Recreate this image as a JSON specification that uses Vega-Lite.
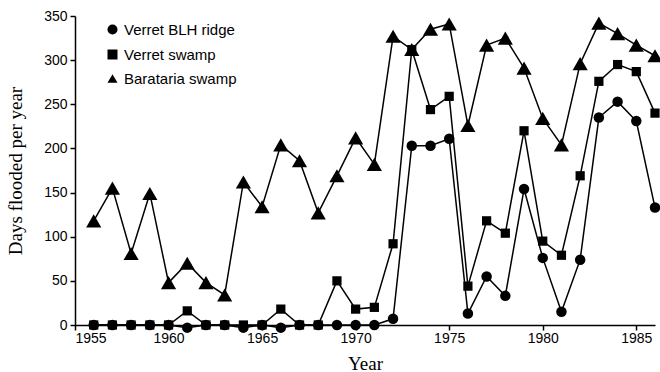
{
  "$schema": "https://vega.github.io/schema/vega-lite/v6.json",
  "width": 580,
  "height": 309,
  "autosize": {"type": "none"},
  "padding": {"left": 75, "top": 16, "right": 5, "bottom": 47},
  "background": "white",
  "config": {
    "view": {"stroke": null},
    "axis": {"grid": false, "domainColor": "black", "tickColor": "black", "labelColor": "black", "titleColor": "black", "labelFont": "Liberation Sans", "labelFontSize": 14, "titleFont": "Liberation Serif", "titleFontSize": 19, "titleFontWeight": "normal", "domainWidth": 1.5, "tickWidth": 1.5, "tickSize": 5}
  },
  "data": {
    "values": [
      {"year": 1956, "site": "Barataria swamp", "days": 118},
      {"year": 1957, "site": "Barataria swamp", "days": 155},
      {"year": 1958, "site": "Barataria swamp", "days": 81},
      {"year": 1959, "site": "Barataria swamp", "days": 149},
      {"year": 1960, "site": "Barataria swamp", "days": 48},
      {"year": 1961, "site": "Barataria swamp", "days": 70},
      {"year": 1962, "site": "Barataria swamp", "days": 48},
      {"year": 1963, "site": "Barataria swamp", "days": 34},
      {"year": 1964, "site": "Barataria swamp", "days": 162},
      {"year": 1965, "site": "Barataria swamp", "days": 134},
      {"year": 1966, "site": "Barataria swamp", "days": 204},
      {"year": 1967, "site": "Barataria swamp", "days": 186},
      {"year": 1968, "site": "Barataria swamp", "days": 127},
      {"year": 1969, "site": "Barataria swamp", "days": 169},
      {"year": 1970, "site": "Barataria swamp", "days": 212},
      {"year": 1971, "site": "Barataria swamp", "days": 182},
      {"year": 1972, "site": "Barataria swamp", "days": 327},
      {"year": 1973, "site": "Barataria swamp", "days": 312},
      {"year": 1974, "site": "Barataria swamp", "days": 335},
      {"year": 1975, "site": "Barataria swamp", "days": 341},
      {"year": 1976, "site": "Barataria swamp", "days": 226},
      {"year": 1977, "site": "Barataria swamp", "days": 317},
      {"year": 1978, "site": "Barataria swamp", "days": 325},
      {"year": 1979, "site": "Barataria swamp", "days": 291},
      {"year": 1980, "site": "Barataria swamp", "days": 234},
      {"year": 1981, "site": "Barataria swamp", "days": 204},
      {"year": 1982, "site": "Barataria swamp", "days": 296},
      {"year": 1983, "site": "Barataria swamp", "days": 342},
      {"year": 1984, "site": "Barataria swamp", "days": 330},
      {"year": 1985, "site": "Barataria swamp", "days": 317},
      {"year": 1986, "site": "Barataria swamp", "days": 305},
      {"year": 1956, "site": "Verret swamp", "days": 0},
      {"year": 1957, "site": "Verret swamp", "days": 0},
      {"year": 1958, "site": "Verret swamp", "days": 0},
      {"year": 1959, "site": "Verret swamp", "days": 0},
      {"year": 1960, "site": "Verret swamp", "days": 0},
      {"year": 1961, "site": "Verret swamp", "days": 16},
      {"year": 1962, "site": "Verret swamp", "days": 0},
      {"year": 1963, "site": "Verret swamp", "days": 0},
      {"year": 1964, "site": "Verret swamp", "days": 0},
      {"year": 1965, "site": "Verret swamp", "days": 0},
      {"year": 1966, "site": "Verret swamp", "days": 18},
      {"year": 1967, "site": "Verret swamp", "days": 0},
      {"year": 1968, "site": "Verret swamp", "days": 0},
      {"year": 1969, "site": "Verret swamp", "days": 50},
      {"year": 1970, "site": "Verret swamp", "days": 18},
      {"year": 1971, "site": "Verret swamp", "days": 20},
      {"year": 1972, "site": "Verret swamp", "days": 92},
      {"year": 1973, "site": "Verret swamp", "days": 312},
      {"year": 1974, "site": "Verret swamp", "days": 244},
      {"year": 1975, "site": "Verret swamp", "days": 259},
      {"year": 1976, "site": "Verret swamp", "days": 44},
      {"year": 1977, "site": "Verret swamp", "days": 118},
      {"year": 1978, "site": "Verret swamp", "days": 104},
      {"year": 1979, "site": "Verret swamp", "days": 220},
      {"year": 1980, "site": "Verret swamp", "days": 95},
      {"year": 1981, "site": "Verret swamp", "days": 79},
      {"year": 1982, "site": "Verret swamp", "days": 169},
      {"year": 1983, "site": "Verret swamp", "days": 276},
      {"year": 1984, "site": "Verret swamp", "days": 295},
      {"year": 1985, "site": "Verret swamp", "days": 287},
      {"year": 1986, "site": "Verret swamp", "days": 240},
      {"year": 1956, "site": "Verret BLH ridge", "days": 0},
      {"year": 1957, "site": "Verret BLH ridge", "days": 0},
      {"year": 1958, "site": "Verret BLH ridge", "days": 0},
      {"year": 1959, "site": "Verret BLH ridge", "days": 0},
      {"year": 1960, "site": "Verret BLH ridge", "days": 0},
      {"year": 1961, "site": "Verret BLH ridge", "days": -3},
      {"year": 1962, "site": "Verret BLH ridge", "days": 0},
      {"year": 1963, "site": "Verret BLH ridge", "days": 0},
      {"year": 1964, "site": "Verret BLH ridge", "days": -3},
      {"year": 1965, "site": "Verret BLH ridge", "days": 0},
      {"year": 1966, "site": "Verret BLH ridge", "days": -3},
      {"year": 1967, "site": "Verret BLH ridge", "days": 0},
      {"year": 1968, "site": "Verret BLH ridge", "days": 0},
      {"year": 1969, "site": "Verret BLH ridge", "days": 0},
      {"year": 1970, "site": "Verret BLH ridge", "days": 0},
      {"year": 1971, "site": "Verret BLH ridge", "days": 0},
      {"year": 1972, "site": "Verret BLH ridge", "days": 7},
      {"year": 1973, "site": "Verret BLH ridge", "days": 203},
      {"year": 1974, "site": "Verret BLH ridge", "days": 203},
      {"year": 1975, "site": "Verret BLH ridge", "days": 211},
      {"year": 1976, "site": "Verret BLH ridge", "days": 13},
      {"year": 1977, "site": "Verret BLH ridge", "days": 55},
      {"year": 1978, "site": "Verret BLH ridge", "days": 33},
      {"year": 1979, "site": "Verret BLH ridge", "days": 154},
      {"year": 1980, "site": "Verret BLH ridge", "days": 76},
      {"year": 1981, "site": "Verret BLH ridge", "days": 15},
      {"year": 1982, "site": "Verret BLH ridge", "days": 74},
      {"year": 1983, "site": "Verret BLH ridge", "days": 235},
      {"year": 1984, "site": "Verret BLH ridge", "days": 253},
      {"year": 1985, "site": "Verret BLH ridge", "days": 231},
      {"year": 1986, "site": "Verret BLH ridge", "days": 133}
    ]
  },
  "encoding": {
    "x": {"field": "year", "type": "quantitative", "scale": {"domain": [1955, 1986], "nice": false, "zero": false},
      "axis": {"values": [1955, 1960, 1965, 1970, 1975, 1980, 1985], "format": "d", "title": "Year", "labelPadding": 1, "titlePadding": 9, "offset": 0}},
    "y": {"field": "days", "type": "quantitative", "scale": {"domain": [0, 350], "nice": false},
      "axis": {"values": [0, 50, 100, 150, 200, 250, 300, 350], "title": "Days flooded per year", "labelPadding": 3, "titlePadding": 18}}
  },
  "layer": [
    {
      "mark": {"type": "line", "color": "black", "strokeWidth": 1.5},
      "encoding": {"detail": {"field": "site"}}
    },
    {
      "mark": {"type": "point", "filled": true, "opacity": 1, "color": "black"},
      "encoding": {
        "shape": {"field": "site", "type": "nominal",
          "scale": {"domain": ["Verret BLH ridge", "Verret swamp", "Barataria swamp"], "range": ["circle", "square", "triangle-up"]},
          "legend": {"title": null, "orient": "none", "legendX": 30, "legendY": 6, "labelFont": "Liberation Sans", "labelFontSize": 15, "labelColor": "black", "symbolFillColor": "black", "symbolStrokeColor": "black", "rowPadding": 8, "labelOffset": 4, "padding": 0,
            "encode": {"symbols": {"update": {"size": {"signal": "datum.value === 'Barataria swamp' ? 230 : (datum.value === 'Verret swamp' ? 85 : 110)"}}}}}},
        "size": {"condition": [{"test": "datum.site === 'Barataria swamp'", "value": 230}, {"test": "datum.site === 'Verret swamp'", "value": 85}], "value": 110}
      }
    }
  ]
}
